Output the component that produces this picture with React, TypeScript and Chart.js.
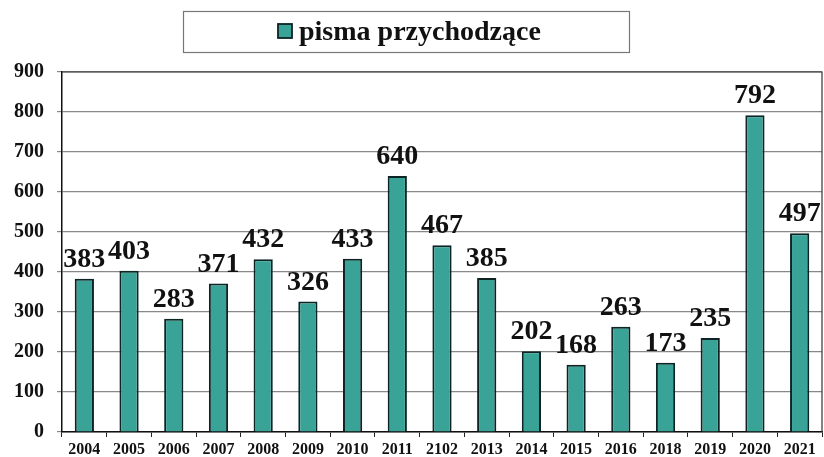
import React, { useEffect, useRef } from "react";
import { Chart, registerables } from "chart.js";

Chart.register(...registerables);

const categories = ["2004", "2005", "2006", "2007", "2008", "2009", "2010", "2011", "2102", "2013", "2014", "2015", "2016", "2018", "2019", "2020", "2021"];
const values = [383, 403, 283, 371, 432, 326, 433, 640, 467, 385, 202, 168, 263, 173, 235, 792, 497];
const seriesName = "pisma przychodzące";
const yTicks = [0, 100, 200, 300, 400, 500, 600, 700, 800, 900];

const FONT = "'Liberation Serif', 'Times New Roman', serif";
const FILL = "#3aa398";
const EDGE = "#0c2424";

const framePlugin = {
  id: "frame",
  afterDraw(chart: any) {
    const { ctx, chartArea } = chart;
    ctx.save();
    ctx.strokeStyle = "#333";
    ctx.lineWidth = 1.2;
    ctx.beginPath();
    ctx.moveTo(chartArea.left, chartArea.top);
    ctx.lineTo(chartArea.right, chartArea.top);
    ctx.lineTo(chartArea.right, chartArea.bottom);
    ctx.stroke();
    ctx.restore();
  },
};

const labelPlugin = {
  id: "valueLabels",
  afterDatasetsDraw(chart: any) {
    const { ctx } = chart;
    const meta = chart.getDatasetMeta(0);
    ctx.save();
    ctx.font = `bold 28px ${FONT}`;
    ctx.fillStyle = "#111";
    ctx.textAlign = "center";
    ctx.textBaseline = "alphabetic";
    meta.data.forEach((bar: any, i: number) => {
      ctx.fillText(String(values[i]), bar.x, bar.y - 12);
    });
    ctx.restore();
  },
};

const legendPlugin = {
  id: "boxLegend",
  afterDraw(chart: any) {
    const { ctx } = chart;
    ctx.save();
    ctx.strokeStyle = "#777";
    ctx.lineWidth = 1.2;
    ctx.strokeRect(183.5, 11.5, 446, 41);
    ctx.fillStyle = FILL;
    ctx.fillRect(278, 24, 14, 14);
    ctx.strokeStyle = EDGE;
    ctx.lineWidth = 1.8;
    ctx.strokeRect(278, 24, 14, 14);
    ctx.font = `bold 28px ${FONT}`;
    ctx.fillStyle = "#111";
    ctx.textAlign = "left";
    ctx.textBaseline = "alphabetic";
    ctx.fillText(seriesName, 299, 40);
    ctx.restore();
  },
};

export default function App() {
  const ref = useRef<HTMLCanvasElement>(null);
  useEffect(() => {
    if (!ref.current) return;
    const chart = new Chart(ref.current, {
      type: "bar",
      data: {
        labels: categories,
        datasets: [
          {
            label: seriesName,
            data: values,
            backgroundColor: FILL,
            borderColor: EDGE,
            borderWidth: 2,
            barPercentage: 0.43,
            categoryPercentage: 1,
          },
        ],
      },
      options: {
        responsive: false,
        animation: false,
        layout: { padding: { top: 72, right: 2, left: 0, bottom: 0 } },
        plugins: { legend: { display: false }, tooltip: { enabled: false } },
        scales: {
          x: {
            offset: true,
            grid: { drawOnChartArea: false, drawTicks: true, tickLength: 5, color: "#222", offset: true },
            border: { color: "#111", width: 1.5 },
            ticks: { font: { family: FONT, size: 16, weight: "bold" }, color: "#111", padding: 3, maxRotation: 0, autoSkip: false },
            afterFit(scale: any) { scale.height = 25; },
          },
          y: {
            min: 0,
            max: 900,
            afterBuildTicks(scale: any) { scale.ticks = yTicks.map((v) => ({ value: v })); },
            grid: { color: "#888", lineWidth: 1.2, tickLength: 5, drawTicks: true },
            border: { color: "#111", width: 1.5 },
            ticks: { font: { family: FONT, size: 20, weight: "bold" }, color: "#111", padding: 13 },
            afterFit(scale: any) { scale.width = 62; },
          },
        },
      },
      plugins: [framePlugin, labelPlugin, legendPlugin],
    });
    return () => chart.destroy();
  }, []);
  return (
    <div style={{ position: "absolute", left: 0, top: 0, width: 824, height: 457, background: "#fff" }}>
      <canvas ref={ref} width={824} height={457} />
    </div>
  );
}
